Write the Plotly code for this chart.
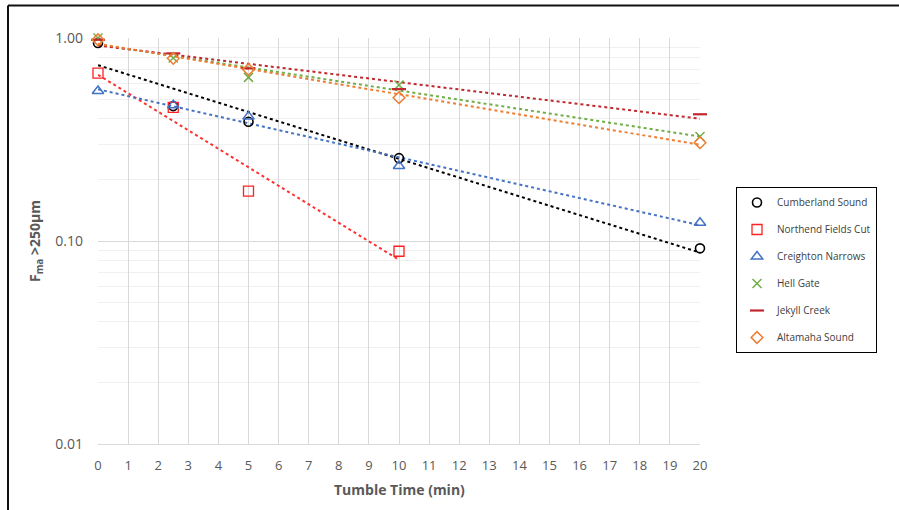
import numpy as np
import plotly.graph_objects as go

# Tumble time (min) and F_ma >250 µm fractions per site
times_full = [0, 2.5, 5, 10, 20]
times_short = [0, 2.5, 5, 10]

cumberland = [0.945, 0.462, 0.387, 0.256, 0.092]
northend = [0.672, 0.455, 0.176, 0.089]
creighton = [0.548, 0.467, 0.410, 0.234, 0.123]
hell_gate = [1.00, 0.797, 0.640, 0.587, 0.327]
jekyll = [0.98, 0.840, 0.709, 0.560, 0.421]
altamaha = [0.98, 0.794, 0.700, 0.508, 0.305]

x_ticks = list(range(0, 21))
y_ticks = [0.01, 0.1, 1.0]
y_tick_text = ["0.01", "0.10", "1.00"]

series = [
    ("Cumberland Sound", times_full, cumberland,
     dict(symbol="circle-open", size=9, color="#000000", line=dict(width=1.6)), "#000000"),
    ("Northend Fields Cut", times_short, northend,
     dict(symbol="square-open", size=10, color="#FF2020", line=dict(width=1.3)), "#FF3030"),
    ("Creighton Narrows", times_full, creighton,
     dict(symbol="triangle-up-open", size=10, color="#4472C4", line=dict(width=1.5)), "#4472C4"),
    ("Hell Gate", times_full, hell_gate,
     dict(symbol="x-thin-open", size=9, color="#70AD47", line=dict(width=1.5, color="#70AD47")), "#70AD47"),
    ("Jekyll Creek", times_full, jekyll,
     dict(symbol="line-ew-open", size=10, color="#C0282D", line=dict(width=2.2, color="#C0282D")), "#C0282D"),
    ("Altamaha Sound", times_full, altamaha,
     dict(symbol="diamond-open", size=9, color="#ED7D31", line=dict(width=1.5)), "#ED7D31"),
]

fig = go.Figure()

# Exponential trendlines (least squares on log10 of the values)
for name, xs, ys, marker, tcolor in series:
    xs_a = np.array(xs, dtype=float)
    slope, intercept = np.polyfit(xs_a, np.log10(ys), 1)
    xt = np.linspace(xs_a.min(), xs_a.max(), 60)
    fig.add_trace(go.Scatter(
        x=xt, y=10 ** (intercept + slope * xt), mode="lines",
        line=dict(color=tcolor, width=2, dash="dot"),
        showlegend=False, hoverinfo="skip"))

for i, (name, xs, ys, marker, tcolor) in enumerate(series):
    fig.add_trace(go.Scatter(
        x=xs, y=ys, mode="markers", name=name, marker=marker,
        legendgroup=f"g{i}", cliponaxis=False))

minor_vals = [m * 10.0 ** e for e in (-2, -1) for m in range(2, 10)]

fig.update_layout(
    width=899, height=510,
    margin=dict(l=98, r=199, t=38, b=66),
    paper_bgcolor="white", plot_bgcolor="white",
    font=dict(family="Open Sans", color="#595959"),
    legend=dict(
        x=1.0598, y=0.633, xanchor="left", yanchor="top",
        bordercolor="#000000", borderwidth=1, bgcolor="white",
        font=dict(family="Open Sans", size=10, color="#404040"),
        tracegroupgap=8, itemsizing="trace"),
    xaxis=dict(
        range=[0, 20], tickvals=x_ticks, ticks="",
        showgrid=True, gridcolor="#d9d9d9", gridwidth=1,
        showline=True, linecolor="#d9d9d9", linewidth=1,
        zeroline=False, tickfont=dict(size=13, color="#595959"),
        ticklabelstandoff=9),
    yaxis=dict(
        type="log", range=[-2, 0], tickvals=y_ticks, ticktext=y_tick_text,
        ticks="", showgrid=True, gridcolor="#d9d9d9", gridwidth=1,
        showline=False, zeroline=False,
        tickfont=dict(size=14, color="#595959"), ticklabelstandoff=14,
        minor=dict(tickvals=minor_vals, showgrid=True, gridcolor="#f0f0f0",
                   gridwidth=1, ticks="")),
    annotations=[
        dict(text="<b>Tumble Time (min)</b>", x=0.5, y=-0.113, xref="paper", yref="paper",
             xanchor="center", yanchor="middle", showarrow=False,
             font=dict(size=14, color="#595959", family="Open Sans")),
        dict(text="<b>F<sub>ma</sub> >250μm</b>", x=-0.1047, y=0.5, xref="paper", yref="paper",
             xanchor="center", yanchor="middle", showarrow=False, textangle=-90,
             font=dict(size=14, color="#595959", family="Open Sans")),
    ],
    shapes=[
        dict(type="line", xref="paper", yref="paper", x0=-0.1495, x1=1.35,
             y0=1.08, y1=1.08, line=dict(color="#111111", width=2)),
        dict(type="line", xref="paper", yref="paper", x0=-0.1495, x1=-0.1495,
             y0=1.08, y1=-0.2, line=dict(color="#111111", width=2)),
    ],
)

fig.write_html("out.html")
